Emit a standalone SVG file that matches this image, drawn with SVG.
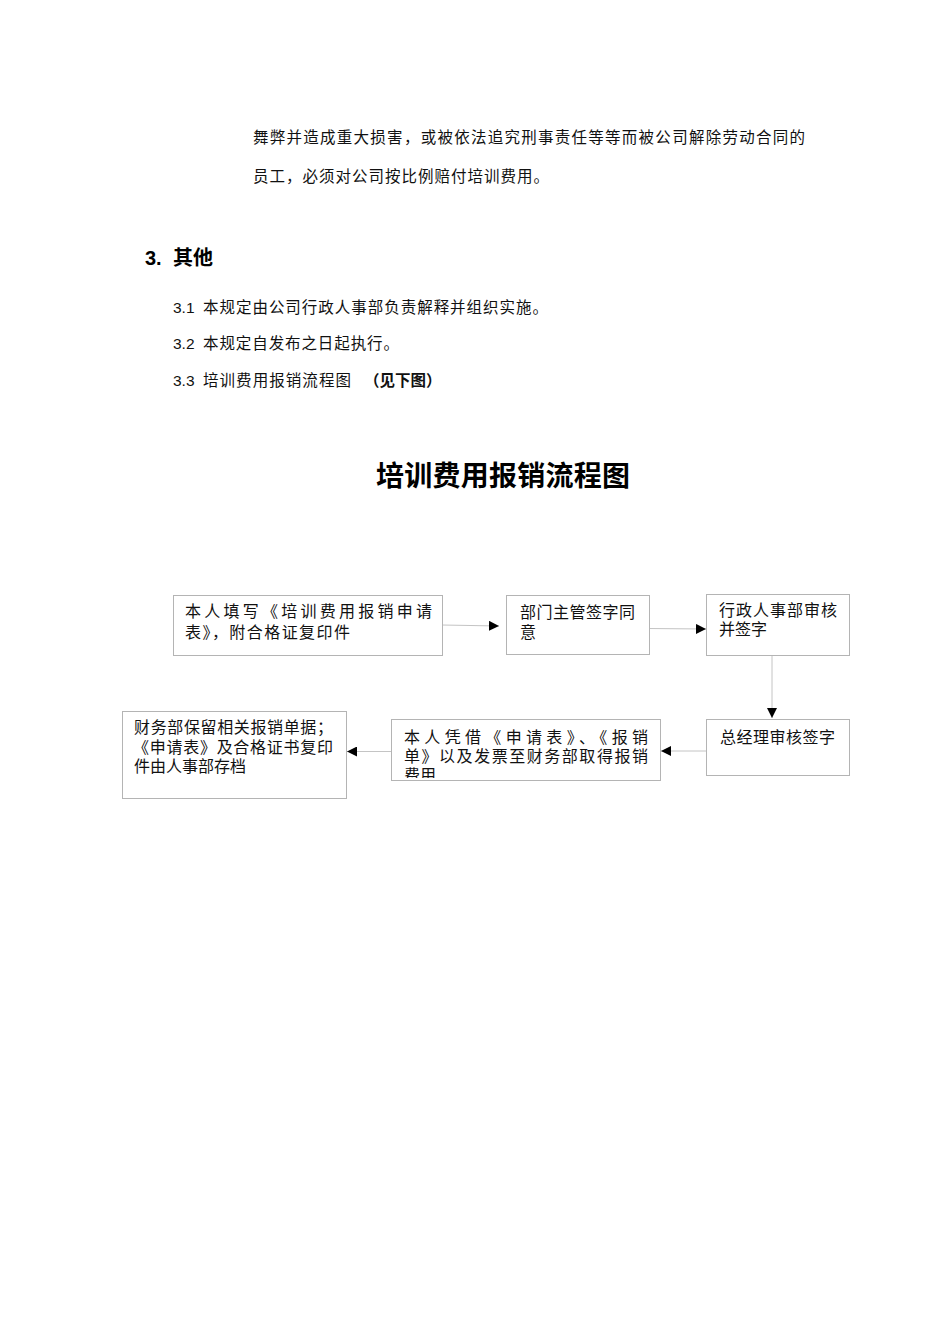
<svg xmlns="http://www.w3.org/2000/svg" width="950" height="1344" viewBox="0 0 950 1344">
<style>
.body{font-family:"Liberation Sans","Noto Sans CJK SC",sans-serif;font-size:15.5px;fill:#111}
.head{font-family:"Liberation Sans","Noto Sans CJK SC",sans-serif;font-size:20px;font-weight:bold;fill:#000}
.title{font-family:"Liberation Sans","Noto Sans CJK SC",sans-serif;font-size:28px;font-weight:bold;fill:#000}
.box{fill:#fff;stroke:#b4b4b4;stroke-width:1}
.bt{font-family:"Liberation Serif","Noto Sans CJK SC",serif;font-size:16px;fill:#111}
.conn{stroke:#c4c4c4;stroke-width:1;fill:none}
</style>
<defs>
<marker id="arr" markerUnits="userSpaceOnUse" markerWidth="10" markerHeight="10" viewBox="0 0 10 10" refX="10" refY="5" orient="auto">
<path d="M0,0 L10,5 L0,10 z" fill="#000"/>
</marker>
<clipPath id="clip5"><rect x="391" y="719" width="270" height="59"/></clipPath>
</defs>
<rect width="950" height="1344" fill="#fff"/>

<g id="text-body">
<text class="body" x="253" y="143" textLength="552">舞弊并造成重大损害，或被依法追究刑事责任等等而被公司解除劳动合同的</text>
<text class="body" x="253" y="182" textLength="296">员工，必须对公司按比例赔付培训费用。</text>
<text class="head" x="145" y="265">3.<tspan x="173">其他</tspan></text>
<text class="body" x="173" y="313">3.1<tspan x="203" textLength="345">本规定由公司行政人事部负责解释并组织实施。</tspan></text>
<text class="body" x="173" y="349">3.2<tspan x="203" textLength="196">本规定自发布之日起执行。</tspan></text>
<text class="body" x="173" y="386">3.3<tspan x="203" textLength="148">培训费用报销流程图</tspan></text>
<text class="body" x="364" y="386" font-weight="bold" font-size="15">（见下图）</text>
<text class="title" x="376" y="486" textLength="254">培训费用报销流程图</text>
</g>

<g id="connectors">
<path class="conn" d="M442,625 L499,626" marker-end="url(#arr)"/>
<path class="conn" d="M649,628.5 L706,629" marker-end="url(#arr)"/>
<path class="conn" d="M772,655 L772,718" marker-end="url(#arr)"/>
<path class="conn" d="M706,751 L661,751" marker-end="url(#arr)"/>
<path class="conn" d="M391,751.5 L347,751.5" marker-end="url(#arr)"/>
</g>

<g id="node1">
<rect class="box" x="173.5" y="595.5" width="269" height="60"/>
<text class="bt" x="185" y="617" textLength="247">本人填写《培训费用报销申请</text>
<text class="bt" x="185" y="638" textLength="165">表》，附合格证复印件</text>
</g>

<g id="node2">
<rect class="box" x="506.5" y="595.5" width="143" height="59"/>
<text class="bt" x="520" y="618" textLength="115">部门主管签字同</text>
<text class="bt" x="520" y="638">意</text>
</g>

<g id="node3">
<rect class="box" x="706.5" y="594.5" width="143" height="61"/>
<text class="bt" x="719" y="616" textLength="118">行政人事部审核</text>
<text class="bt" x="719" y="635">并签字</text>
</g>

<g id="node4">
<rect class="box" x="706.5" y="719.5" width="143" height="56"/>
<text class="bt" x="720" y="743" textLength="115">总经理审核签字</text>
</g>

<g id="node5">
<rect class="box" x="391.5" y="719.5" width="269" height="61"/>
<g clip-path="url(#clip5)">
<text class="bt" x="404" y="743" textLength="244">本人凭借《申请表》、《报销</text>
<text class="bt" x="404" y="762" textLength="244">单》以及发票至财务部取得报销</text>
<text class="bt" x="404" y="781">费用</text>
</g>
</g>

<g id="node6">
<rect class="box" x="122.5" y="711.5" width="224" height="87"/>
<text class="bt" x="134" y="733" textLength="199">财务部保留相关报销单据；</text>
<text class="bt" x="133" y="753" textLength="200">《申请表》及合格证书复印</text>
<text class="bt" x="134" y="772">件由人事部存档</text>
</g>
</svg>
